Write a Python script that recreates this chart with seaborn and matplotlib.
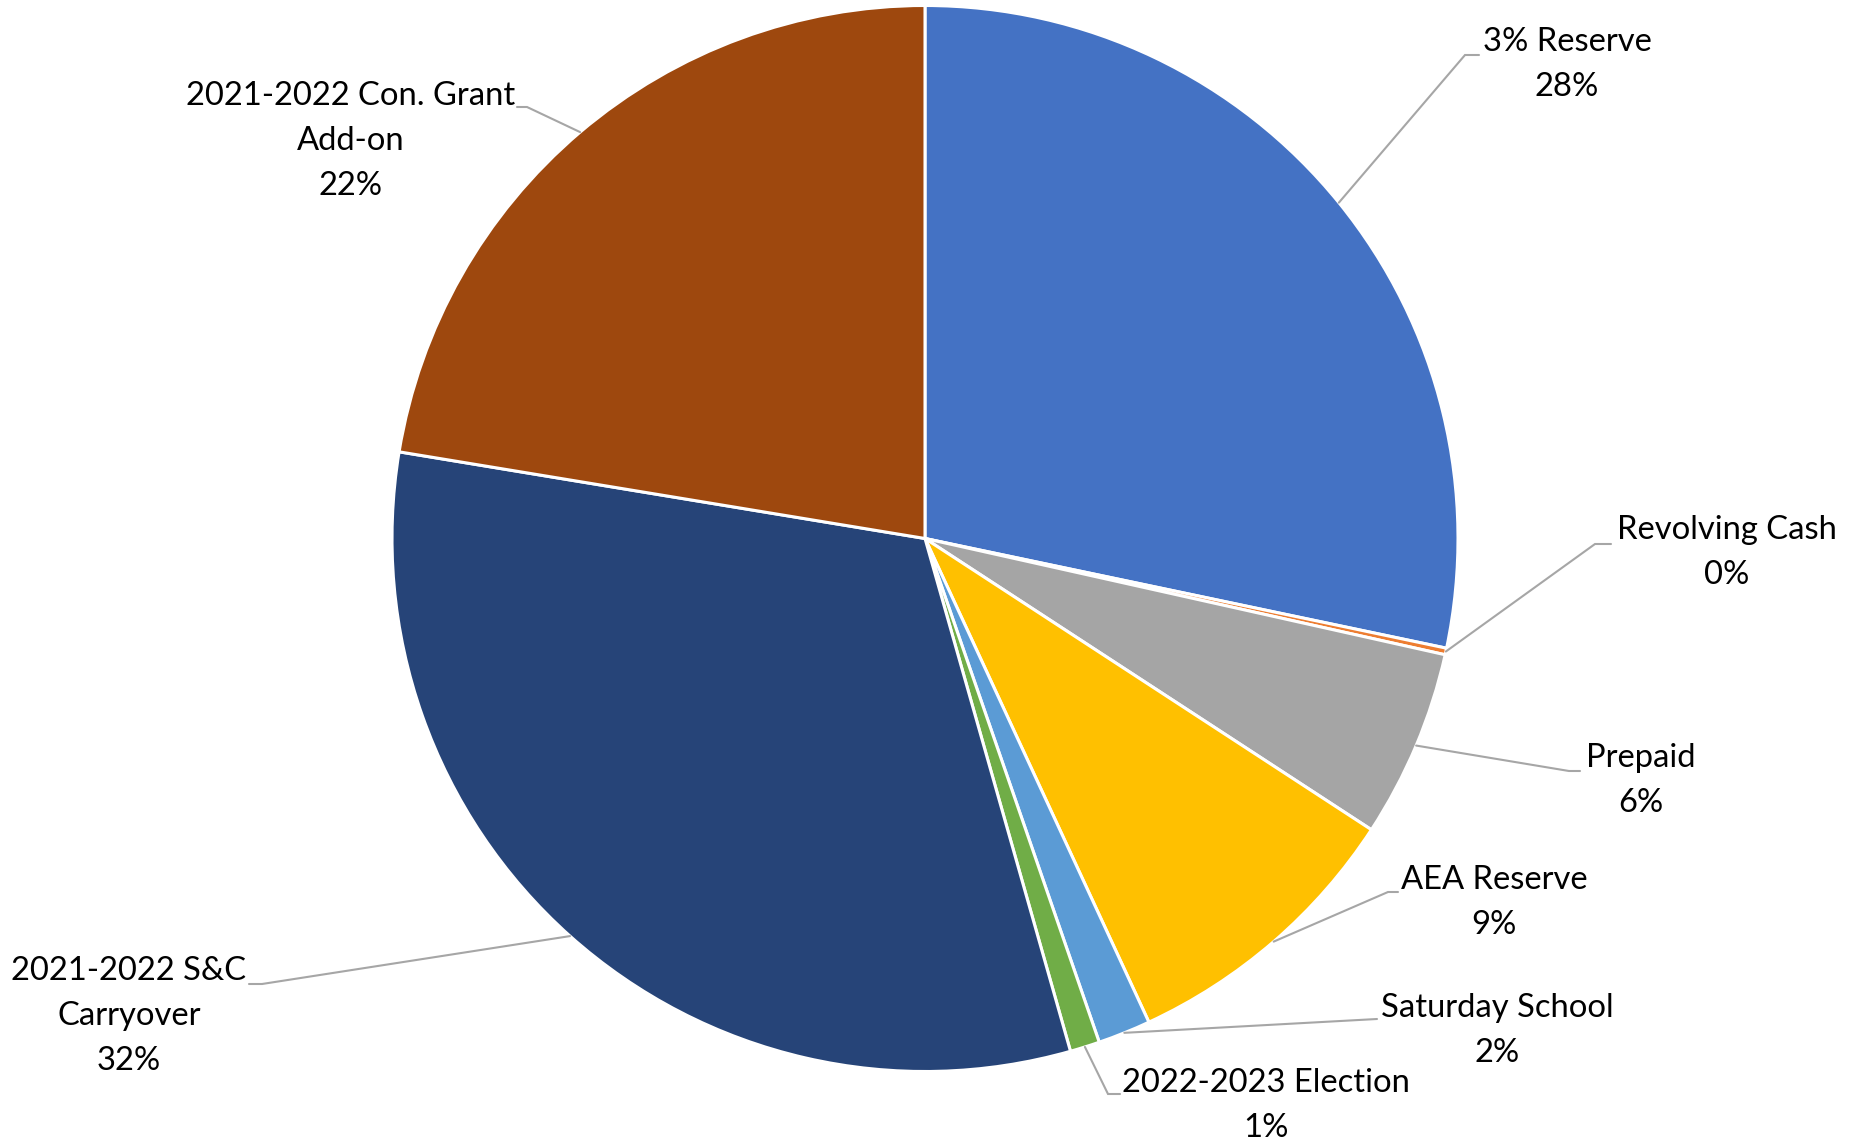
import matplotlib
matplotlib.use("Agg")
import matplotlib.pyplot as plt
import seaborn as sns
import numpy as np

# Fund balance components (percent of total)
categories = [
    "3% Reserve",
    "Revolving Cash",
    "Prepaid",
    "AEA Reserve",
    "Saturday School",
    "2022-2023 Election",
    "2021-2022 S&C\nCarryover",
    "2021-2022 Con. Grant\nAdd-on",
]
shares = [28.3, 0.2, 5.7, 8.9, 1.6, 0.9, 32.0, 22.4]
colors = ["#4472C4", "#ED7D31", "#A5A5A5", "#FFC000",
          "#5B9BD5", "#70AD47", "#264478", "#9E480E"]

sns.set_theme(style="white")
plt.rcParams["font.family"] = ["Lato", "DejaVu Sans"]

W, H = 1864, 1147
fig = plt.figure(figsize=(W / 100, H / 100), dpi=100)
ax = fig.add_axes([0, 0, 1, 1])

cx, cy, R = 925, 538.5, 533


def py(y):
    return H - y


wedges, _ = ax.pie(
    shares, colors=colors, startangle=90, counterclock=False,
    center=(cx, py(cy)), radius=R,
    wedgeprops=dict(edgecolor="white", linewidth=2.2),
)
ax.set_xlim(0, W)
ax.set_ylim(0, H)
ax.set_aspect("equal")
ax.axis("off")

# label layout: (elbow point, line end, text centre x, first line y)
layout = [
    ((1465, 55), (1479, 55), 1567, 42),
    ((1595, 544), (1611, 544), 1727, 530),
    ((1569, 771), (1580, 771), 1641, 758),
    ((1388, 892), (1398, 892), 1494, 880),
    ((1377, 1019), (1377, 1019), 1497, 1008),
    ((1108, 1094), (1120, 1094), 1266, 1083),
    ((262, 984), (249, 984), 129, 971),
    ((527, 107), (517, 107), 351, 96),
]

cum = np.cumsum([0] + shares)
total = cum[-1]
pitch = 45
for i, (name, val) in enumerate(zip(categories, shares)):
    mid = (cum[i] + cum[i + 1]) / 2 / total * 2 * np.pi
    sx = cx + R * np.sin(mid)
    sy = cy - R * np.cos(mid)
    (ex, ey), (fx, fy), tx, ty = layout[i]
    ax.plot([sx, ex, fx], [py(sy), py(ey), py(fy)],
            color="#A6A6A6", lw=1.5, solid_joinstyle="miter")
    lines = name.split("\n") + [f"{round(val):.0f}%"]
    for k, ln in enumerate(lines):
        ax.text(tx, py(ty + k * pitch), ln, ha="center", va="center",
                fontsize=23.6, color="black")

fig.savefig("out.png", dpi=100, facecolor="white")
